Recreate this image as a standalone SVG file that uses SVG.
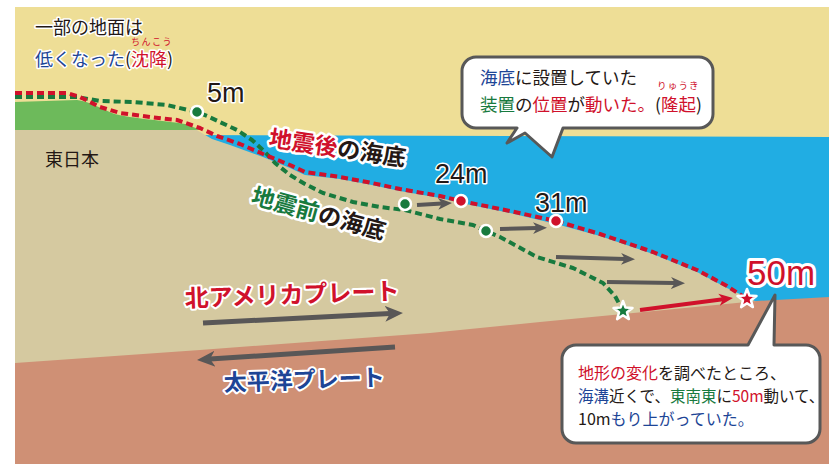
<svg xmlns="http://www.w3.org/2000/svg" width="829" height="464" viewBox="0 0 829 464">
  <style>
    text { font-family: "Noto Sans CJK JP", "Noto Sans", sans-serif; }
    .num { font-family: "Liberation Sans", "Noto Sans", sans-serif; }
    .halo { paint-order: stroke; stroke: #fff; stroke-linejoin: round; }
    .r { fill: #D0112B; }
    .b { fill: #1D4596; }
    .g { fill: #187A3E; }
    .k { fill: #231815; }
    .dash { fill: none; stroke-width: 4; stroke-dasharray: 7 4; stroke-linejoin: round; }
    .bubble { fill: #fff; stroke: #585858; stroke-width: 3; stroke-linejoin: round; }
    .arrow { fill: none; stroke: #595757; stroke-width: 4; }
    .plate-arrow { fill: none; stroke: #595757; stroke-width: 5; }
    .dot { stroke: #fff; stroke-width: 2.5; }
  </style>
  <defs>
    <marker id="head" viewBox="0 0 14 14" markerWidth="14" markerHeight="14" refX="4" refY="7" orient="auto" markerUnits="userSpaceOnUse">
      <path d="M0,1 L14,7 L0,13 L4,7 Z" fill="#595757"/>
    </marker>
    <marker id="head-red" viewBox="0 0 14 14" markerWidth="14" markerHeight="14" refX="4" refY="7" orient="auto" markerUnits="userSpaceOnUse">
      <path d="M0,1 L14,7 L0,13 L4,7 Z" fill="#D0112B"/>
    </marker>
    <marker id="head-big" viewBox="0 0 18 18" markerWidth="18" markerHeight="18" refX="5" refY="9" orient="auto" markerUnits="userSpaceOnUse">
      <path d="M0,1 L18,9 L0,17 L5,9 Z" fill="#595757"/>
    </marker>
    <path id="star" d="M0,-10 L2.47,-3.4 L9.51,-3.09 L3.99,1.3 L5.88,8.09 L0,4.2 L-5.88,8.09 L-3.99,1.3 L-9.51,-3.09 L-2.47,-3.4 Z"/>
  </defs>

  <!-- ground and sea cross-section -->
  <g id="scene">
    <rect x="15" y="7" width="814" height="457" fill="#EEDE96"/>
    <polygon points="190,135 829,137 829,320 190,320" fill="#21ADE3"/>
    <path d="M15,129 L195,129 L212,139 L230,145 L263,157 L290,168 L305,175 L340,179 L367,184 L400,191 L440,198 L461,203 L510,213 L556,224 L600,236 L653,254 L697,272 L727,288 L757,302 L757,420 L15,420 Z" fill="#D5C9A0"/>
    <path d="M15,363 L200,350 L430,333 L540,322 L623,314 L757,301 L829,297 L829,464 L15,464 Z" fill="#CF9075"/>
    <path d="M15,102 L77,100 C88,101 100,108 112,113 C125,118 160,120 185,124 L201,130 L15,130 Z" fill="#6DBA5B"/>
  </g>

  <!-- seabed profiles -->
  <g id="seabed-lines">
    <polyline class="dash" stroke="#187A3E" points="15,97 77,97 100,101 133,102 167,105 197,112 207,116 237,130 252,140 265,152 275,163 290,175 305,184 323,193 353,202 380,207 405,210 440,219 473,225 486,231 500,237 513,244 537,257 573,268 603,283 615,296 623,311"/>
    <polyline class="dash" stroke="#D0112B" points="15,93 67,93 80,97 100,107 120,113 150,117 177,120 200,128 217,136 240,144 263,154 290,165 305,172 340,177 367,182 400,189 440,196 461,201 510,211 556,221 600,234 653,252 697,270 727,286 747,299"/>
  </g>

  <!-- movement arrows -->
  <g id="connectors">
    <line class="arrow" x1="417" y1="205" x2="442" y2="203.5" marker-end="url(#head)"/>
    <line class="arrow" x1="500" y1="229" x2="537" y2="228" marker-end="url(#head)"/>
    <line class="arrow" x1="556" y1="257" x2="625" y2="259" marker-end="url(#head)"/>
    <line class="arrow" x1="607" y1="282" x2="675" y2="283" marker-end="url(#head)"/>
    <line x1="640" y1="310" x2="723" y2="299.3" stroke="#D0112B" stroke-width="4" marker-end="url(#head-red)"/>
    <line class="plate-arrow" x1="203" y1="323" x2="390" y2="313.6" marker-end="url(#head-big)"/>
    <line class="plate-arrow" x1="395" y1="347" x2="210" y2="359.1" marker-end="url(#head-big)"/>
  </g>

  <!-- measuring points -->
  <g id="points">
    <circle class="dot" cx="197" cy="112" r="6" fill="#187A3E"/>
    <circle class="dot" cx="405" cy="204" r="6" fill="#187A3E"/>
    <circle class="dot" cx="461" cy="201" r="6" fill="#D0112B"/>
    <circle class="dot" cx="486" cy="231" r="6" fill="#187A3E"/>
    <circle class="dot" cx="556" cy="221" r="6" fill="#D0112B"/>
    <use href="#star" transform="translate(623,311)" fill="#187A3E" stroke="#fff" stroke-width="2.5" stroke-linejoin="round"/>
    <use href="#star" transform="translate(747,299)" fill="#D0112B" stroke="#fff" stroke-width="2.5" stroke-linejoin="round"/>
  </g>

  <!-- labels on the section -->
  <g id="labels">
    <text x="35" y="34" font-size="18" class="halo k" stroke-width="3">一部の地面は</text>
    <text x="35" y="66" font-size="18" class="halo" stroke-width="3"><tspan class="b">低くなった</tspan><tspan class="k">(</tspan><tspan class="r">沈降</tspan><tspan class="k">)</tspan></text>
    <text x="131" y="45" font-size="9" class="r" letter-spacing="1.5">ちんこう</text>
    <text x="45" y="166" font-size="18" class="k">東日本</text>
    <text class="num halo k" x="207" y="102" font-size="27" stroke-width="3">5m</text>
    <text class="num halo k" x="435" y="183" font-size="27" stroke-width="3">24m</text>
    <text class="num halo k" x="535" y="212" font-size="27" stroke-width="3">31m</text>
    <text class="num halo r" x="747" y="285" font-size="35" stroke-width="6">50m</text>
    <text transform="translate(268,146) rotate(8.5)" font-size="23" font-weight="bold" class="halo" stroke-width="5"><tspan class="r">地震後</tspan><tspan class="k">の海底</tspan></text>
    <text transform="translate(250,203) rotate(15.5)" font-size="23" font-weight="bold" class="halo" stroke-width="5"><tspan class="g">地震前</tspan><tspan class="k">の海底</tspan></text>
    <text transform="translate(185,307) rotate(-2)" font-size="24" font-weight="bold" class="halo r" stroke-width="4">北アメリカプレート</text>
    <text transform="translate(224,391) rotate(-2)" font-size="23" font-weight="bold" class="halo b" stroke-width="4">太平洋プレート</text>
  </g>

  <!-- speech bubble: device on the seafloor -->
  <g id="bubble-device">
    <path class="bubble" d="M476,57 H699 A14,14 0 0 1 713,71 V114 A14,14 0 0 1 699,128 H563 L552,157 L525,133 L507,143 L517,128 H476 A14,14 0 0 1 462,114 V71 A14,14 0 0 1 476,57 Z"/>
    <text x="480" y="84" font-size="17.5"><tspan class="b">海底</tspan><tspan class="k">に設置していた</tspan></text>
    <text x="480" y="111" font-size="17.5"><tspan class="g">装置</tspan><tspan class="k">の</tspan><tspan class="r">位置</tspan><tspan class="k">が</tspan><tspan class="r">動いた。</tspan><tspan class="k">(</tspan><tspan class="r">隆起</tspan><tspan class="k">)</tspan></text>
    <text x="657" y="89" font-size="9.5" class="r" letter-spacing="1.2">りゅうき</text>
  </g>

  <!-- speech bubble: trench survey -->
  <g id="bubble-survey">
    <path class="bubble" d="M576,345 H748 L775,295 L774,345 H806 A14,14 0 0 1 820,359 V429 A14,14 0 0 1 806,443 H576 A14,14 0 0 1 562,429 V359 A14,14 0 0 1 576,345 Z"/>
    <text x="578" y="379" font-size="16"><tspan class="r">地形の変化</tspan><tspan class="k">を調べたところ、</tspan></text>
    <text x="578" y="402" font-size="15.5"><tspan class="b">海溝</tspan><tspan class="k">近くで、</tspan><tspan class="g">東南東</tspan><tspan class="k">に</tspan><tspan class="r">50m</tspan><tspan class="k">動いて、</tspan></text>
    <text x="578" y="425" font-size="16"><tspan class="k">10m</tspan><tspan class="b">もり上がっていた。</tspan></text>
  </g>
</svg>
